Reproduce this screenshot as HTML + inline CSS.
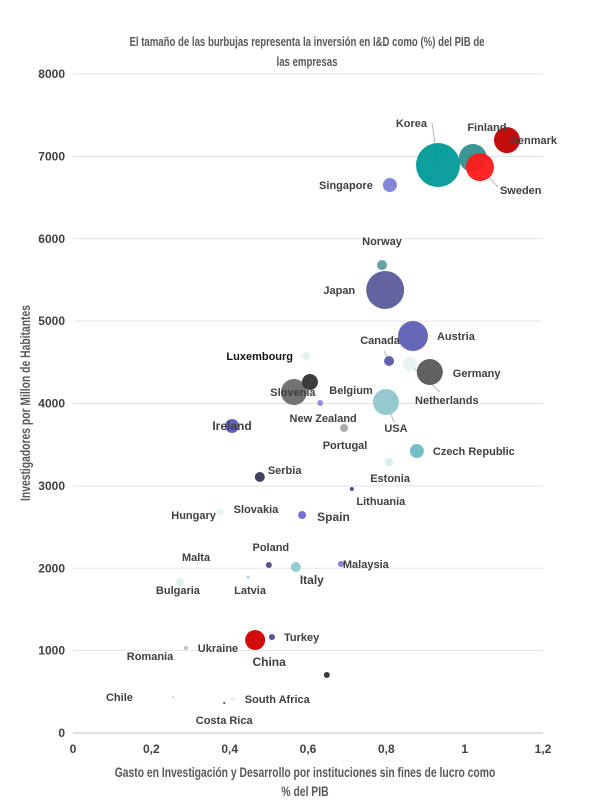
<!DOCTYPE html>
<html><head><meta charset="utf-8">
<style>
body{margin:0;background:#fff;width:604px;height:807px;overflow:hidden;font-family:"Liberation Sans",sans-serif}
svg text{font-family:"Liberation Sans",sans-serif}
</style></head>
<body>
<svg id="chart" width="604" height="807" xmlns="http://www.w3.org/2000/svg">
<text x="307" y="46" text-anchor="middle" font-size="13" font-weight="bold" fill="#595959" transform="translate(307,0) scale(0.74,1) translate(-307,0)">El tamaño de las burbujas representa la inversión en I&amp;D como (%) del PIB de</text>
<text x="307" y="66" text-anchor="middle" font-size="13" font-weight="bold" fill="#595959" transform="translate(307,0) scale(0.74,1) translate(-307,0)">las empresas</text>
<g id="grid"></g><g id="leaders"></g><g id="marks"></g><g id="labels"></g>
<text x="305" y="777" text-anchor="middle" font-size="14" font-weight="bold" fill="#595959" transform="translate(305,0) scale(0.74,1) translate(-305,0)">Gasto en Investigación y Desarrollo por instituciones sin fines de lucro como</text>
<text x="305" y="796" text-anchor="middle" font-size="14" font-weight="bold" fill="#595959" transform="translate(305,0) scale(0.74,1) translate(-305,0)">% del PIB</text>
<text transform="translate(30,403) rotate(-90) scale(0.74,1)" text-anchor="middle" font-size="14" font-weight="bold" fill="#595959">Investigadores por Millon de Habitantes</text>
</svg>
<script>
const countries=["Korea","Finland","Sweden","Denmark","Singapore","Norway","Japan","Austria","Canada","Germany","Netherlands","Luxembourg","UK","Slovenia","New Zealand","USA","Ireland","Portugal","Czech Republic","Estonia","Serbia","Lithuania","Spain","Hungary","Poland","Italy","Malaysia","Latvia","Bulgaria","China","Turkey","Ukraine","Other","South Africa","Costa Rica","Chile"];
const xValues=[0.932,1.021,1.039,1.108,0.809,0.789,0.797,0.868,0.807,0.911,0.860,0.595,0.605,0.564,0.631,0.799,0.406,0.692,0.878,0.807,0.477,0.712,0.585,0.375,0.500,0.569,0.684,0.447,0.273,0.465,0.508,0.288,0.648,0.408,0.386,0.255];
const yValues=[6895,6980,6870,7198,6652,5681,5378,4819,4516,4382,4479,4576,4261,4139,4006,4018,3727,3702,3423,3290,3108,2962,2646,2680,2039,2015,2051,1894,1833,1129,1165,1032,704,413,364,437];
const sizes=[22,14,14,13,7,5,19,15,5,13,7,4,8,13,3,13,7,4,7,4,5,2,4,4,3,5,3,1.5,4,10,3,2,3,2,1,1];
const colors=["#009999","#338f8f","#ff1a1a","#c00000","#7f7fd6","#5f9ea0","#5b5b9a","#5f5fb5","#5a5aa8","#595959","#e6f2f2","#e0f0f0","#333333","#6b6b6b","#8c8ce0","#8fc6cc","#5a5ac2","#a6a6a6","#70bcc4","#d6ecee","#333a5a","#444488","#6b6bd6","#e6f4f4","#4a4a80","#8ccbd0","#8080d6","#a0d6da","#dcefef","#d00000","#4a4a90","#bbbbbb","#333333","#e0f0f0","#333333","#a0d6da"];
const yTicks=[0,1000,2000,3000,4000,5000,6000,7000,8000];
const xTicks=[0,0.2,0.4,0.6,0.8,1,1.2];
const xTickLabels=["0","0,2","0,4","0,6","0,8","1","1,2"];
const X0=73,X1=543,Y0=733,Y1=74;
function sx(v){return X0+v/1.2*(X1-X0);}
function sy(v){return Y0-v/8000*(Y0-Y1);}
const NS="http://www.w3.org/2000/svg";
const grid=document.getElementById('grid'),marks=document.getElementById('marks'),labels=document.getElementById('labels'),leaders=document.getElementById('leaders');
function mk(tag,attrs,parent,txt){const e=document.createElementNS(NS,tag);for(const k in attrs)e.setAttribute(k,attrs[k]);if(txt!==undefined)e.textContent=txt;parent.appendChild(e);return e;}
yTicks.forEach(t=>{
 const l=mk('line',{x1:X0,x2:X1,y1:sy(t),y2:sy(t),stroke:t===0?'#bfbfbf':'#e3e3e3','stroke-width':1},grid);
 
 
 const tx=mk('text',{x:X0-8,y:sy(t)+4,'text-anchor':'end','font-size':12,'font-weight':'bold',fill:'#404040'},grid,String(t));
 
 
});
xTicks.forEach((t,i)=>{
 const tx=mk('text',{x:sx(t),y:Y0+20,'text-anchor':'middle','font-size':12,'font-weight':'bold',fill:'#404040'},grid,xTickLabels[i]);
 
 
});
const order=countries.map((c,i)=>i).sort((a,b)=>sizes[b]-sizes[a]);
order.forEach(i=>{
 const c=mk('circle',{cx:sx(xValues[i]),cy:sy(yValues[i]),r:sizes[i],fill:colors[i],'fill-opacity':0.95},marks);
 
 
});
// label layout offsets (dx,dy from bubble center)
const labelDX=[-11,14,20,3,-17,0,-30,24,-9,23,37,-13,0,-1,3,10,0,1,16,1,8,29,15,-4,2,16,2,2,-2,14,12,12,0,12,0,-40];
const labelDY=[-38,-27,27,4,4,-20,4,4,-17,5,40,4,-999,4,19,30,4,21,4,20,-3,16,6,7,-14,17,4,17,12,26,4,4,-999,4,21,4];
const anchors=["end","middle","start","start","end","middle","end","start","middle","start","middle","end","start","middle","middle","middle","middle","middle","start","middle","start","middle","start","end","middle","middle","start","middle","middle","middle","start","start","start","start","middle","end"];
countries.forEach((c,i)=>{
 if(labelDY[i]===-999)return;
 const bold=(c==="Luxembourg");
 const t=mk('text',{x:sx(xValues[i])+labelDX[i],y:sy(yValues[i])+labelDY[i],'text-anchor':anchors[i],'font-size':c==="China"||c==="Ireland"||c==="Spain"||c==="Italy"?12:11,'font-weight':'bold',fill:bold?'#111':'#404040'},labels,c);
 
 
});
// leader lines for a few labels
[["Korea",-6,-42],["Sweden",18,20],["Netherlands",30,28],["USA",8,20],["Canada",-5,-10]].forEach(d=>{
 const i=countries.indexOf(d[0]);
 const l=mk('line',{x1:sx(xValues[i]),y1:sy(yValues[i]),x2:sx(xValues[i])+d[1],y2:sy(yValues[i])+d[2],stroke:'#a6a6a6','stroke-width':0.8},leaders);
 
 
});
const extra=[["Belgium",351,394],["Slovakia",256,513],["Malta",196,561],["Romania",150,660]];
extra.forEach(e=>{
 const t=mk('text',{x:e[1],y:e[2],'text-anchor':'middle','font-size':11,'font-weight':'bold',fill:'#404040'},labels,e[0]);
 
 
});
</script>
</body></html>
